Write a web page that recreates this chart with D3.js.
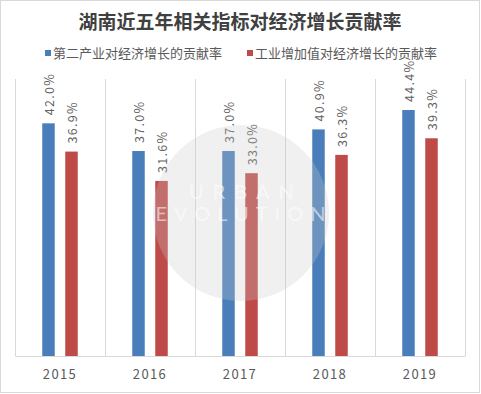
<!DOCTYPE html>
<html><head><meta charset="utf-8">
<script src="https://cdn.jsdelivr.net/npm/d3@7/dist/d3.min.js"></script>
<style>body{margin:0;background:#fff;}svg{display:block;}</style>
</head><body>
<svg id="c" width="481" height="394"></svg>
<script>
const title = "湖南近五年相关指标对经济增长贡献率";
const years = ["2015","2016","2017","2018","2019"];
const seriesNames = ["第二产业对经济增长的贡献率","工业增加值对经济增长的贡献率"];
const secondIndustry = [42.0, 37.0, 37.0, 40.9, 44.4];
const industryValueAdded = [36.9, 31.6, 33.0, 36.3, 39.3];
const colors = ["#4a7ebb", "#be4b48"];

const svg = d3.select("#c");
const font = "'Noto Sans CJK SC', 'Noto Sans', sans-serif";
const grey = "#595959";

svg.append("rect").attr("x",0.5).attr("y",0.5).attr("width",479).attr("height",392)
  .attr("fill","#fff").attr("stroke","#d9d9d9");

svg.append("text").attr("x",240).attr("y",29).attr("text-anchor","middle")
  .attr("font-family",font).attr("font-weight","bold").attr("font-size",19)
  .attr("fill","#404040").text(title);

// legend
const legX = [45, 247];
seriesNames.forEach((n,i)=>{
  svg.append("rect").attr("x",legX[i]).attr("y",50).attr("width",6).attr("height",6).attr("fill",colors[i]);
  svg.append("text").attr("x",legX[i]+8).attr("y",58).attr("font-family",font)
    .attr("font-size",13).attr("fill",grey).text(n);
});

const x = d3.scaleBand().domain(years).range([15,465]).paddingInner(0).paddingOuter(0);
const inner = d3.scaleBand().domain([0,1]).range([0,x.bandwidth()]).paddingInner(0.457).paddingOuter(1.185);
const y = d3.scaleLinear().domain([0,50]).range([356,79]);

// vertical grid lines
const bounds = years.map(d=>x(d)).concat([x(years[years.length-1])+x.bandwidth()]);
svg.append("g").selectAll("line").data(bounds).join("line")
  .attr("x1",d=>Math.round(d)+0.5).attr("x2",d=>Math.round(d)+0.5)
  .attr("y1",y(50)).attr("y2",y(0)).attr("stroke","#d9d9d9");

const data = [secondIndustry, industryValueAdded];
data.forEach((vals,s)=>{
  const g = svg.append("g");
  g.selectAll("rect").data(vals).join("rect")
    .attr("x",(d,i)=>x(years[i])+inner(s)).attr("width",inner.bandwidth())
    .attr("y",d=>y(d)).attr("height",d=>y(0)-y(d)).attr("fill",colors[s]);
  g.selectAll("text").data(vals).join("text")
    .attr("transform",(d,i)=>`translate(${x(years[i])+inner(s)+inner.bandwidth()/2+1},${y(d)-8}) rotate(-90)`)
    .attr("dy","0.35em").attr("font-family",font).attr("font-size",12.5)
    .attr("letter-spacing",1.3).attr("fill","#636363").text(d=>d.toFixed(1)+"%");
});

// bottom axis
const axis = svg.append("g").attr("transform",`translate(0,${y(0)})`)
  .call(d3.axisBottom(x).tickSize(0).tickPadding(14));
axis.select(".domain").attr("stroke","#d9d9d9");
axis.selectAll("text").attr("font-family",font).attr("font-size",13)
  .attr("letter-spacing",1.4).attr("fill",grey);

// watermark
const wm = svg.append("g").attr("pointer-events","none");
wm.append("circle").attr("cx",241).attr("cy",213).attr("r",88).attr("fill","#c8c8c8").attr("opacity",0.28);
wm.append("text").attr("x",246).attr("y",199).attr("text-anchor","middle").attr("font-family","Lato, sans-serif")
  .attr("font-size",20).attr("letter-spacing",9).attr("fill","#ffffff").attr("opacity",0.55).text("URBAN");
wm.append("text").attr("x",244).attr("y",221).attr("text-anchor","middle").attr("font-family","Lato, sans-serif")
  .attr("font-size",20).attr("letter-spacing",7).attr("fill","#ffffff").attr("opacity",0.55).text("EVOLUTION");
</script>
</body></html>
